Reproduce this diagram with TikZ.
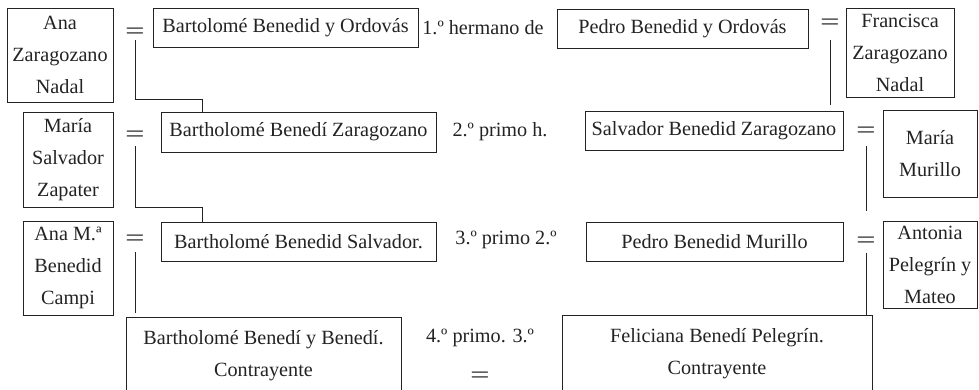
\documentclass[tikz,border=0pt]{standalone}
\usepackage{fontspec}
\setmainfont{Liberation Serif}
\newfontfamily\lmfont{Latin Modern Roman}
\usepackage{tikz}
\usepackage{xcolor}
\usetikzlibrary{calc}
\definecolor{ink}{RGB}{35,35,35}
\newcommand{\arbolfont}{\fontsize{20.2}{32}\selectfont}

\begin{document}
\begin{tikzpicture}[x=1pt,y=1pt]
\tikzstyle{every node}+=[inner sep=0pt, text=ink]
\tikzstyle{persona}=[draw=ink, line width=0.9pt, align=center, font=\arbolfont]
\tikzstyle{igual}=[font=\lmfont\bfseries\fontsize{22}{22}\selectfont]
\tikzstyle{grado}=[font=\arbolfont]
\tikzstyle{linea}=[draw=ink, line width=0.9pt]
\useasboundingbox (0,0) rectangle (979,-389);
\clip (0,0) rectangle (979,-389);
% first generation
\node [persona, minimum width=106, minimum height=94] (ana1) at (60,-55) {Ana\\Zaragozano\\Nadal};
\node [igual] (e1) at (135,-32) {=};
\node [persona, minimum width=265, minimum height=39] (bart1) at (285.5,-27.5) {Bartolomé Benedid y Ordovás};
\node [grado] (t1) at (483,-28) {1.º hermano de};
\node [persona, minimum width=251, minimum height=39] (pedro1) at (682.5,-28.5) {Pedro Benedid y Ordovás};
\node [igual] (e1r) at (830,-23) {=};
\node [persona, minimum width=108, minimum height=89] (fran) at (900,-52.5) {Francisca\\Zaragozano\\Nadal};
% second generation
\node [persona, minimum width=90, minimum height=95] (maria1) at (68,-159.5) {María\\Salvador\\Zapater};
\node [igual] (e2) at (135,-135.5) {=};
\node [persona, minimum width=275, minimum height=40] (bart2) at (298.5,-132) {Bartholomé Benedí Zaragozano};
\node [grado] (t2) at (500,-132) {2.º primo h.};
\node [persona, minimum width=258, minimum height=39] (salv) at (714,-130.5) {Salvador Benedid Zaragozano};
\node [igual] (e2r) at (866,-131.5) {=};
\node [persona, minimum width=94, minimum height=87] (maria2) at (930,-153.5) {María\\Murillo};
% third generation
\node [persona, minimum width=90, minimum height=94] (ana2) at (68,-268) {Ana M.ª\\Benedid\\Campi};
\node [igual] (e3) at (135,-239) {=};
\node [persona, minimum width=275, minimum height=39] (bart3) at (298.5,-241.5) {Bartholomé Benedid Salvador.};
\node [grado] (t3) at (506,-240) {3.º primo 2.º};
\node [persona, minimum width=257, minimum height=39] (pedro2) at (714.5,-241.5) {Pedro Benedid Murillo};
\node [igual] (e3r) at (866,-241.5) {=};
\node [persona, minimum width=94, minimum height=87] (anto) at (930,-264.5) {Antonia\\Pelegrín y\\Mateo};
% the couple
\node [persona, minimum width=275, minimum height=78] (bart4) at (263.5,-356) {Bartholomé Benedí y Benedí.\\Contrayente};
\node [grado] (t4) at (480,-338) {4.º primo. 3.º};
\node [igual] (e4) at (480,-376.5) {=};
\node [persona, minimum width=310, minimum height=78] (feli) at (717,-354) {Feliciana Benedí Pelegrín.\\Contrayente};
% descent lines
\coordinate (k1) at (202,-99);
\coordinate (k2) at (202,-207);
\draw [linea] ([yshift=-4pt]e1.south) |- (k1) -- (k1 |- bart2.north);
\draw [linea] ([yshift=-5.6pt]e2.south) |- (k2) -- (k2 |- bart3.north);
\draw [linea] ([yshift=-9pt]e3.south) -- ($(e3 |- bart4.north)+(0,4)$);
\draw [linea] ([yshift=-13pt]e1r.south) -- ($(e1r |- salv.north)+(0,6)$);
\draw [linea] ([yshift=-9.6pt]e2r.south) -- ($(e2r |- anto.north)+(0,10)$);
\draw [linea] ([yshift=-6.6pt]e3r.south) -- (e3r |- feli.north);
\end{tikzpicture}
\end{document}
